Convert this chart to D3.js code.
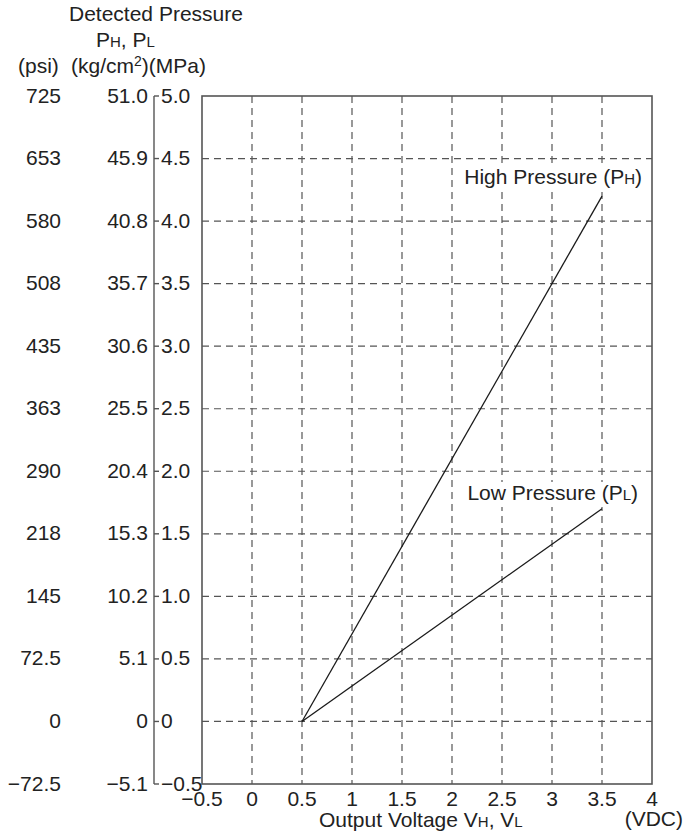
<!DOCTYPE html>
<html>
<head>
<meta charset="utf-8">
<script src="https://cdn.jsdelivr.net/npm/d3@7"></script>
<style>
  html, body { margin: 0; padding: 0; background: #fff; }
  svg { display: block; }
  text { font-family: "Liberation Sans", Arial, Helvetica, sans-serif; fill: #222; }
</style>
</head>
<body>
<svg id="chart" width="684" height="836"></svg>
<script>
// ---- data ----
const mpaTicks   = [-0.5, 0, 0.5, 1.0, 1.5, 2.0, 2.5, 3.0, 3.5, 4.0, 4.5, 5.0];
const mpaLabels  = ["\u22120.5", "0", "0.5", "1.0", "1.5", "2.0", "2.5", "3.0", "3.5", "4.0", "4.5", "5.0"];
const kgLabels   = ["\u22125.1", "0", "5.1", "10.2", "15.3", "20.4", "25.5", "30.6", "35.7", "40.8", "45.9", "51.0"];
const psiLabels  = ["\u221272.5", "0", "72.5", "145", "218", "290", "363", "435", "508", "580", "653", "725"];
const xTicks     = [-0.5, 0, 0.5, 1, 1.5, 2, 2.5, 3, 3.5, 4];
const xLabels    = ["\u22120.5", "0", "0.5", "1", "1.5", "2", "2.5", "3", "3.5", "4"];
const xGrid      = [0, 0.5, 1, 1.5, 2, 2.5, 3, 3.5];
const yGrid      = [0, 0.5, 1.0, 1.5, 2.0, 2.5, 3.0, 3.5, 4.0, 4.5];
const highVoltage  = [0.5, 3.5];
const highPressure = [0, 4.2];
const lowVoltage   = [0.5, 3.5];
const lowPressure  = [0, 1.7];

// ---- layout ----
const svg = d3.select("#chart");
const FS = 21;
const x = d3.scaleLinear().domain([-0.5, 4]).range([202, 652]);
const y = d3.scaleLinear().domain([-0.5, 5]).range([784, 96]);
const axisColor = "#555";

// grid
const g = svg.append("g");
g.selectAll("line.vg").data(xGrid).join("line")
  .attr("x1", d => x(d)).attr("x2", d => x(d))
  .attr("y1", y(5)).attr("y2", y(-0.5))
  .attr("stroke", axisColor).attr("stroke-width", 1.2).attr("stroke-dasharray", "7,5");
g.selectAll("line.hg").data(yGrid).join("line")
  .attr("x1", x(-0.5)).attr("x2", x(4))
  .attr("y1", d => y(d)).attr("y2", d => y(d))
  .attr("stroke", axisColor).attr("stroke-width", 1.2).attr("stroke-dasharray", "7,5");

// data lines
const line = d3.line().x(d => x(d[0])).y(d => y(d[1]));
svg.append("path").datum(highVoltage.map((v, i) => [v, highPressure[i]]))
  .attr("d", line).attr("fill", "none").attr("stroke", "#1a1a1a").attr("stroke-width", 1.3);
svg.append("path").datum(lowVoltage.map((v, i) => [v, lowPressure[i]]))
  .attr("d", line).attr("fill", "none").attr("stroke", "#1a1a1a").attr("stroke-width", 1.3);

// frame
svg.append("rect")
  .attr("x", x(-0.5)).attr("y", y(5))
  .attr("width", x(4) - x(-0.5)).attr("height", y(-0.5) - y(5))
  .attr("fill", "none").attr("stroke", axisColor).attr("stroke-width", 1.6);

// labels with small-cap suffix letters
function smallLabel(parent, parts, ax, ay, anchor) {
  const t = parent.append("text").attr("x", ax).attr("y", ay)
    .attr("text-anchor", anchor).attr("font-size", FS);
  parts.forEach(p => {
    const ts = t.append("tspan").text(p[0]);
    if (p[1]) ts.attr("font-size", 15);
  });
  return t;
}
function boxedLabel(parts, ax, ay) {
  const grp = svg.append("g");
  const rect = grp.append("rect").attr("fill", "#fff");
  const t = smallLabel(grp, parts, ax, ay, "end");
  const b = t.node().getBBox();
  rect.attr("x", b.x - 4).attr("y", b.y + 1).attr("width", b.width + 8).attr("height", b.height + 2);
}
boxedLabel([["High Pressure (P"], ["H", true], [")"]], 642, 184);
boxedLabel([["Low Pressure (P"], ["L", true], [")"]], 638, 500);

// left MPa axis line with ticks
const yAxisX = 154;
svg.append("line").attr("x1", yAxisX).attr("x2", yAxisX)
  .attr("y1", y(5)).attr("y2", y(-0.5))
  .attr("stroke", axisColor).attr("stroke-width", 1.4);
svg.selectAll("line.yt").data(mpaTicks).join("line")
  .attr("x1", yAxisX).attr("x2", yAxisX + 5)
  .attr("y1", d => y(d)).attr("y2", d => y(d))
  .attr("stroke", axisColor).attr("stroke-width", 1.4);

// y labels
svg.selectAll("text.mpa").data(mpaTicks).join("text")
  .attr("x", 161).attr("y", d => y(d) + 6.5)
  .attr("font-size", FS).attr("text-anchor", "start")
  .text((d, i) => mpaLabels[i]);
svg.selectAll("text.kg").data(mpaTicks).join("text")
  .attr("x", 148).attr("y", d => y(d) + 6.5)
  .attr("font-size", FS).attr("text-anchor", "end")
  .text((d, i) => kgLabels[i]);
svg.selectAll("text.psi").data(mpaTicks).join("text")
  .attr("x", 61).attr("y", d => y(d) + 6.5)
  .attr("font-size", FS).attr("text-anchor", "end")
  .text((d, i) => psiLabels[i]);

// x labels
svg.selectAll("text.xl").data(xTicks).join("text")
  .attr("x", d => x(d)).attr("y", 806)
  .attr("font-size", FS).attr("text-anchor", "middle")
  .text((d, i) => xLabels[i]);

// axis titles
smallLabel(svg, [["Output Voltage V"], ["H", true], [", V"], ["L", true]], 319, 827, "start");
svg.append("text").attr("x", 683).attr("y", 826).attr("font-size", FS)
  .attr("text-anchor", "end").text("(VDC)");

// header
svg.append("text").attr("x", 69).attr("y", 21).attr("font-size", FS).text("Detected Pressure");
smallLabel(svg, [["P"], ["H", true], [", P"], ["L", true]], 96, 47, "start");
svg.append("text").attr("x", 18).attr("y", 73).attr("font-size", FS).text("(psi)");
const kt = svg.append("text").attr("x", 71).attr("y", 73).attr("font-size", FS);
kt.append("tspan").text("(kg/cm");
kt.append("tspan").attr("font-size", 14).attr("dy", -7).text("2");
kt.append("tspan").attr("dy", 7).text(")(MPa)");
</script>
</body>
</html>
